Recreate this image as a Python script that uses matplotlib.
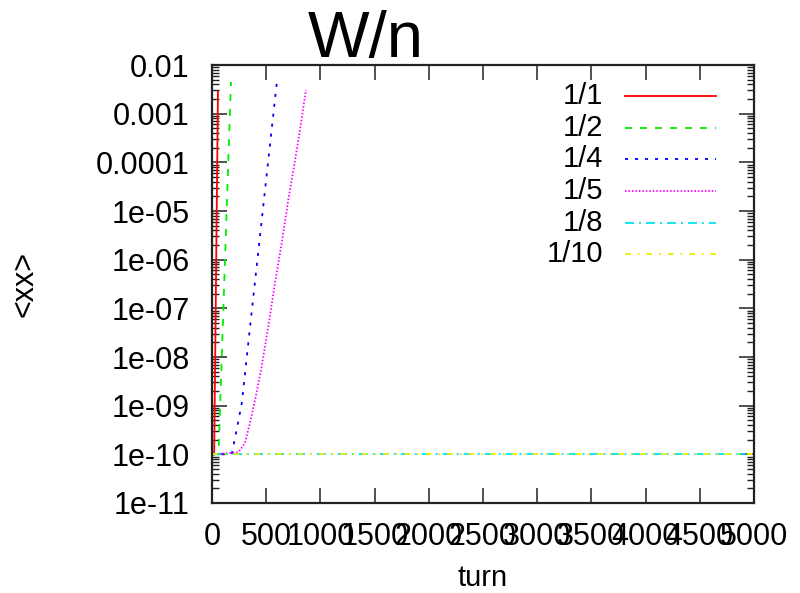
import numpy as np
import matplotlib
matplotlib.use("Agg")
import matplotlib.pyplot as plt
from matplotlib.ticker import FixedLocator, LogLocator, NullFormatter

plt.rcParams['font.family'] = ['Liberation Sans', 'DejaVu Sans']
plt.rcParams['lines.scale_dashes'] = False

# ---- data ----
labels = ["1/1", "1/2", "1/4", "1/5", "1/8", "1/10"]

turn_1_1 = [0, 20, 55]
xx_1_1 = [1e-10, 1e-10, 2.8e-3]

turn_1_2 = [0, 60, 175]
xx_1_2 = [1e-10, 1e-10, 4.5e-3]

turn_1_4 = [0, 182, 233, 274, 304, 341, 381, 418, 458, 498, 544, 597]
xx_1_4 = [1e-10, 1e-10, 3.7e-10, 1.1e-9, 4.5e-9, 2.6e-8, 1.7e-7, 9.5e-7,
          6.3e-6, 4.1e-5, 3.5e-4, 4.2e-3]

turn_1_5 = [0, 243, 304, 351, 397, 458, 519, 581, 643, 704, 766, 812, 867]
xx_1_5 = [1e-10, 1.1e-10, 1.7e-10, 4.5e-10, 1.3e-9, 6.3e-9, 4.2e-8, 3.3e-7,
          2.2e-6, 1.7e-5, 1.1e-4, 4.7e-4, 3.1e-3]

turn_1_8 = [0, 5000]
xx_1_8 = [1e-10, 1e-10]

turn_1_10 = [0, 5000]
xx_1_10 = [1e-10, 1e-10]

x_ticks = [0, 500, 1000, 1500, 2000, 2500, 3000, 3500, 4000, 4500, 5000]
y_ticks = [1e-11, 1e-10, 1e-9, 1e-8, 1e-7, 1e-6, 1e-5, 1e-4, 1e-3, 1e-2]
y_tick_labels = ["1e-11", "1e-10", "1e-09", "1e-08", "1e-07", "1e-06",
                 "1e-05", "0.0001", "0.001", "0.01"]

# ---- styles ----
series = [
    (turn_1_1, xx_1_1, "#ff0000", "-"),
    (turn_1_2, xx_1_2, "#00ee00", (0, (5.0, 5.8))),
    (turn_1_4, xx_1_4, "#0000ff", (0, (2.2, 5.0))),
    (turn_1_5, xx_1_5, "#ff00ff", (0, (1.1, 1.4))),
    (turn_1_8, xx_1_8, "#00e5ee", (0, (6.5, 3.6, 1.4, 3.6))),
    (turn_1_10, xx_1_10, "#eeee00", (0, (4.0, 5.0, 1.4, 5.0))),
]

fig = plt.figure(figsize=(8.0, 5.93), dpi=100)
ax = fig.add_axes([212 / 800, (593 - 503) / 593, 542 / 800, 438 / 593])

for (tx, vy, col, ls) in series:
    ax.plot(tx, vy, color=col, linestyle=ls, linewidth=1.3)

ax.set_yscale('log')
ax.set_xlim(0, 5000)
ax.set_ylim(1e-11, 1e-2)

ax.xaxis.set_major_locator(FixedLocator(x_ticks))
ax.set_xticklabels([str(v) for v in x_ticks])
ax.yaxis.set_major_locator(FixedLocator(y_ticks))
ax.set_yticklabels(y_tick_labels)
ax.yaxis.set_minor_locator(LogLocator(base=10, subs=np.arange(2, 10), numticks=100))
ax.yaxis.set_minor_formatter(NullFormatter())

ax.tick_params(axis='both', which='major', direction='in', length=11, width=1.1,
               labelsize=22, top=True, right=True, color='#222222')
ax.tick_params(axis='y', which='major', pad=16)
ax.tick_params(axis='x', which='major', pad=14)
ax.tick_params(axis='y', which='minor', direction='in', length=5, width=1.0,
               left=True, right=True, color='#222222')
for s in ax.spines.values():
    s.set_linewidth(1.6)
    s.set_color('#222222')

ax.set_xlabel("turn", fontsize=21)
ax.xaxis.label.set_verticalalignment('center')
ax.xaxis.set_label_coords(0.5, (503 - 578) / 438)
ax.set_ylabel("<xx>", fontsize=22)
ax.yaxis.label.set_verticalalignment('center')
ax.yaxis.set_label_coords((25 - 212) / 542, 0.5)

fig.text(366 / 800, 1 - 57 / 593, "W/n", fontsize=47, ha='center', va='baseline')

# gnuplot-style key: labels right-aligned, samples to their right
row_y = [96, 128, 159, 191, 223, 254]
for (tx, vy, col, ls), lab, py in zip(series, labels, row_y):
    ya = (503 - py) / 438
    ax.text((603 - 212) / 542, ya, lab, transform=ax.transAxes, fontsize=21,
            ha='right', va='center')
    ax.plot([(625 - 212) / 542, (716 - 212) / 542], [ya, ya], transform=ax.transAxes,
            color=col, linestyle=ls, linewidth=1.3)

fig.savefig("out.png", dpi=100)
